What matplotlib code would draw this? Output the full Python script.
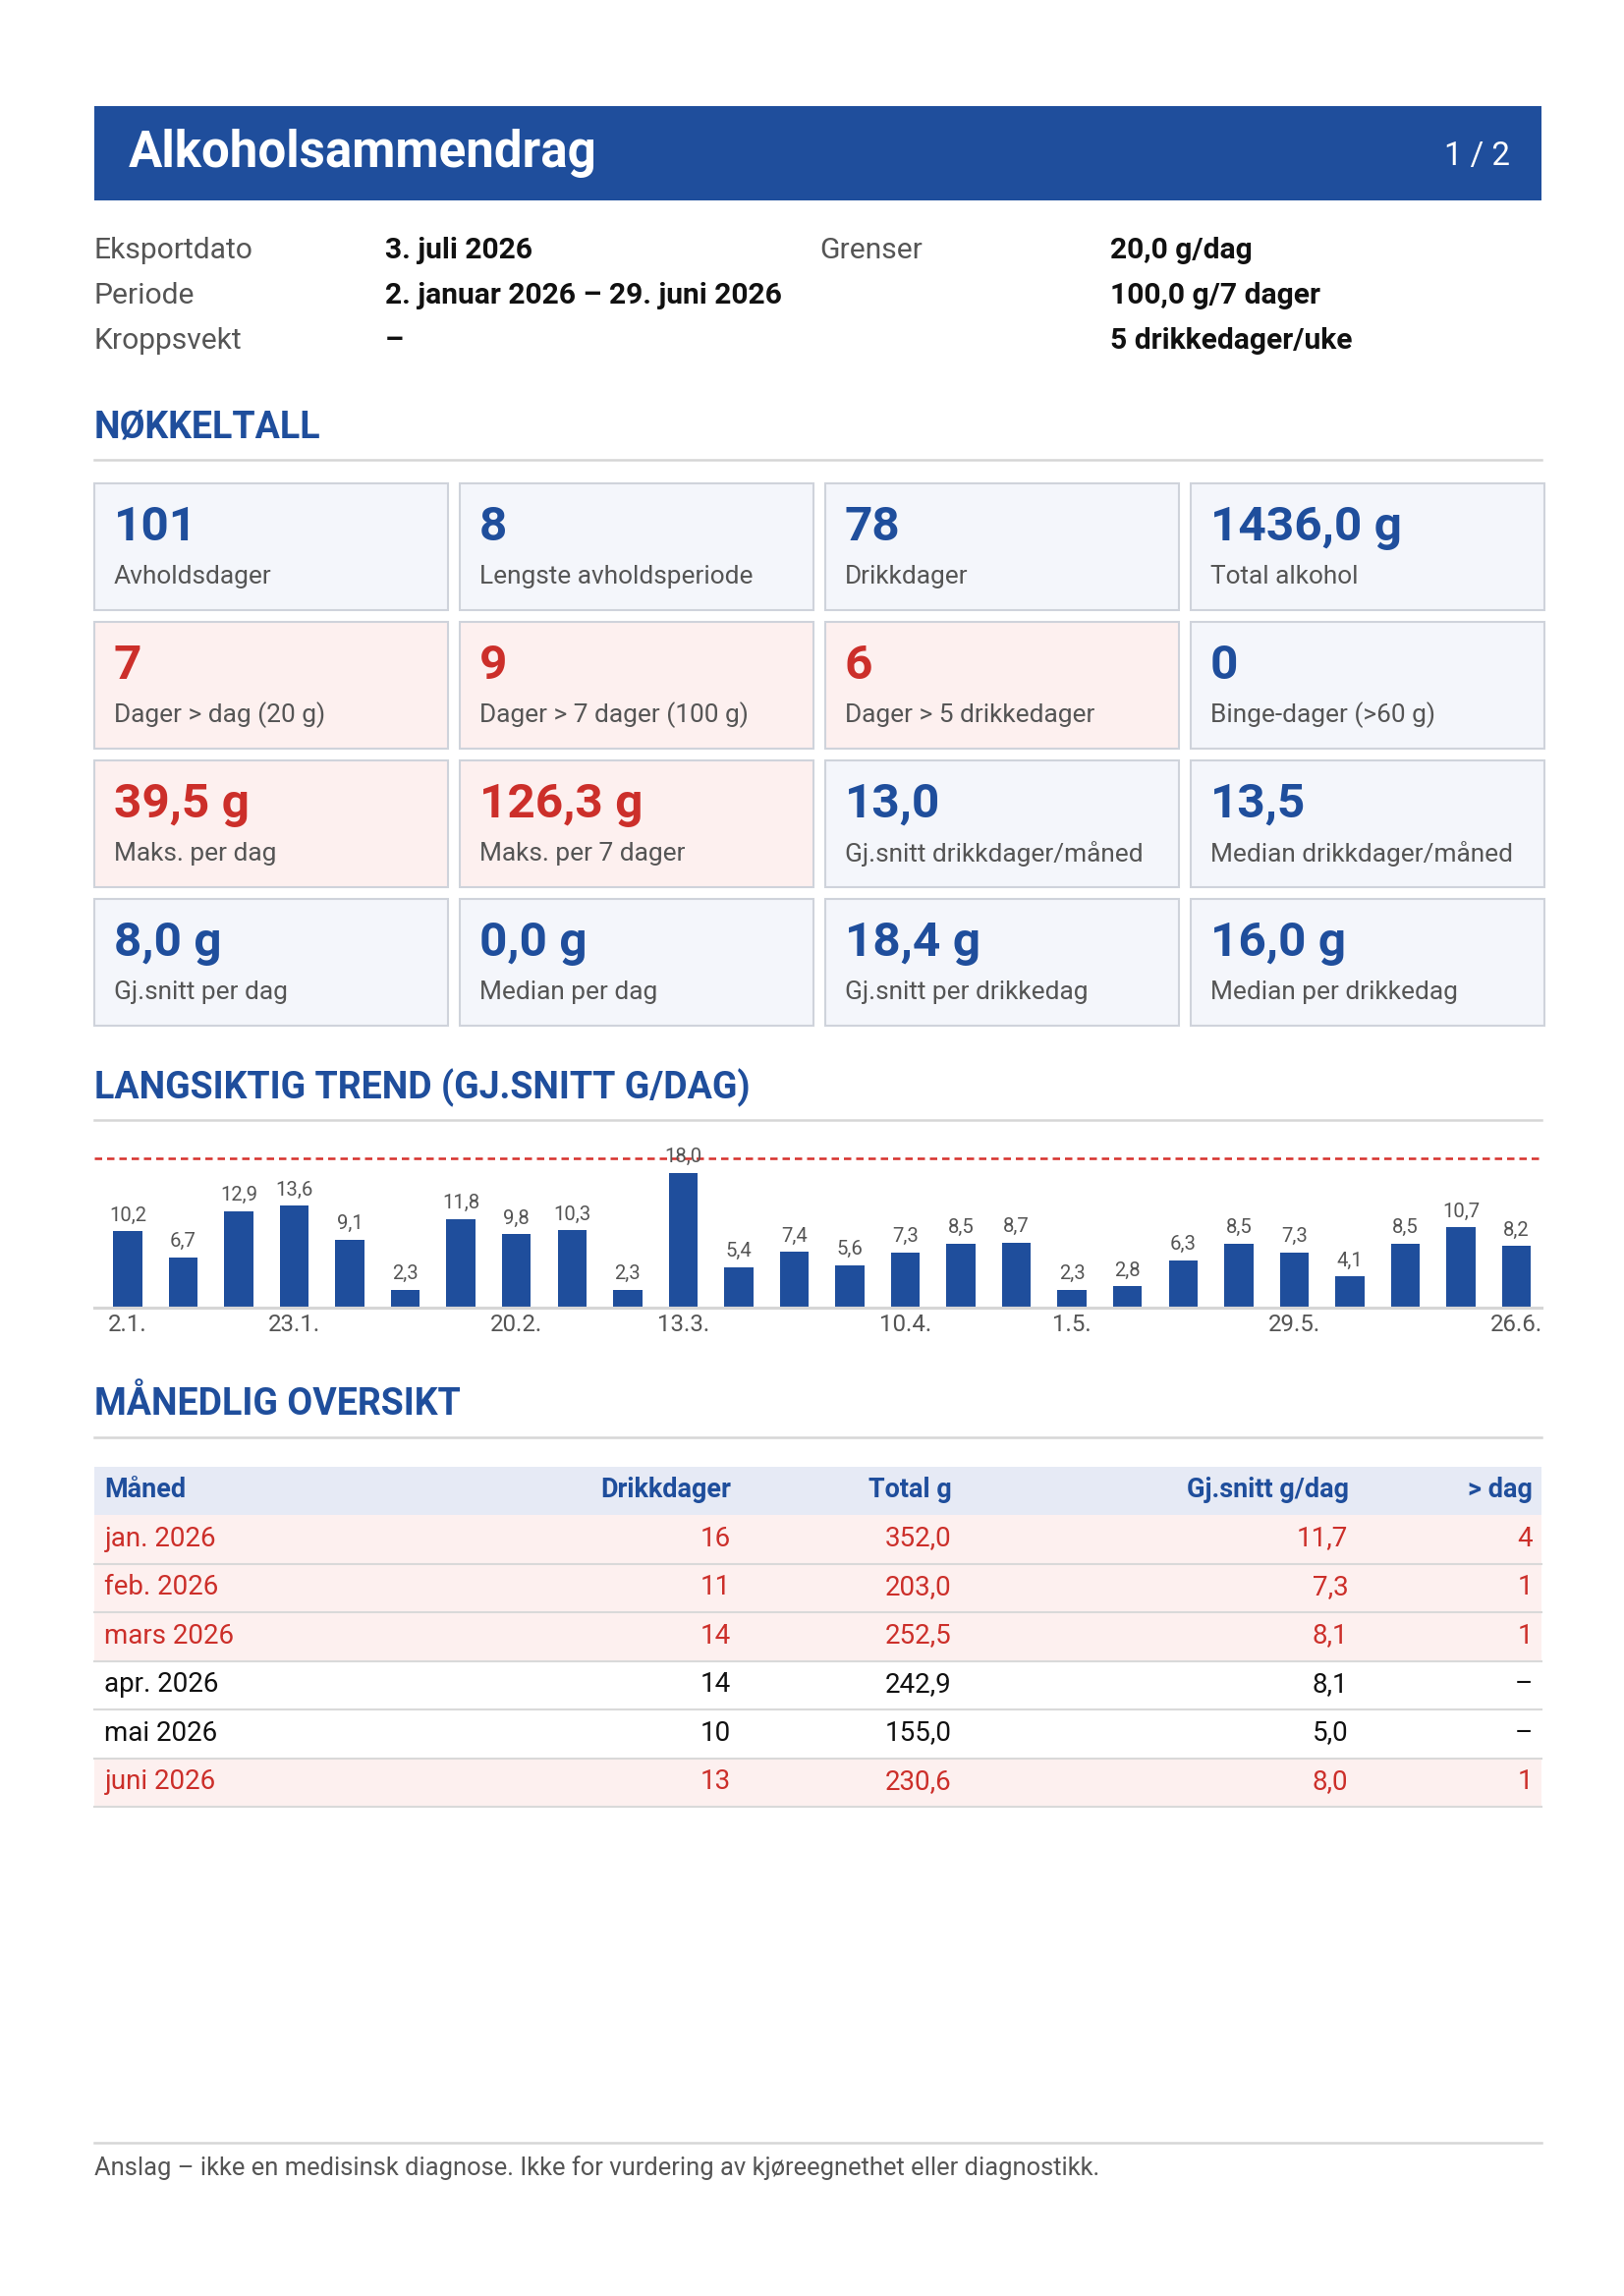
import matplotlib
matplotlib.use("Agg")
import matplotlib.pyplot as plt
from matplotlib.patches import Rectangle

plt.rcParams['font.family'] = ['Roboto', 'DejaVu Sans']

# ---- data ----
info_left = [("Eksportdato", "3. juli 2026"), ("Periode", "2. januar 2026 – 29. juni 2026"), ("Kroppsvekt", "–")]
info_right = [("Grenser", "20,0 g/dag"), ("", "100,0 g/7 dager"), ("", "5 drikkedager/uke")]

card_values = ["101", "8", "78", "1436,0 g",
               "7", "9", "6", "0",
               "39,5 g", "126,3 g", "13,0", "13,5",
               "8,0 g", "0,0 g", "18,4 g", "16,0 g"]
card_labels = ["Avholdsdager", "Lengste avholdsperiode", "Drikkdager", "Total alkohol",
               "Dager > dag (20 g)", "Dager > 7 dager (100 g)", "Dager > 5 drikkedager", "Binge-dager (>60 g)",
               "Maks. per dag", "Maks. per 7 dager", "Gj.snitt drikkdager/måned", "Median drikkdager/måned",
               "Gj.snitt per dag", "Median per dag", "Gj.snitt per drikkedag", "Median per drikkedag"]
card_alert = [False, False, False, False,
              True, True, True, False,
              True, True, False, False,
              False, False, False, False]

week_values = [10.2, 6.7, 12.9, 13.6, 9.1, 2.3, 11.8, 9.8, 10.3, 2.3, 18.0, 5.4, 7.4,
               5.6, 7.3, 8.5, 8.7, 2.3, 2.8, 6.3, 8.5, 7.3, 4.1, 8.5, 10.7, 8.2]
tick_idx = [0, 3, 7, 10, 14, 17, 21, 25]
tick_labels = ["2.1.", "23.1.", "20.2.", "13.3.", "10.4.", "1.5.", "29.5.", "26.6."]
day_limit = 20.0

table_header = ["Måned", "Drikkdager", "Total g", "Gj.snitt g/dag", "> dag"]
months = ["jan. 2026", "feb. 2026", "mars 2026", "apr. 2026", "mai 2026", "juni 2026"]
drink_days = ["16", "11", "14", "14", "10", "13"]
total_g = ["352,0", "203,0", "252,5", "242,9", "155,0", "230,6"]
avg_g = ["11,7", "7,3", "8,1", "8,1", "5,0", "8,0"]
over_day = ["4", "1", "1", "–", "–", "1"]

BLUE = "#1f4e9c"
RED = "#cc2f2a"
GREY = "#555555"

W, H = 1102, 1558
fig = plt.figure(figsize=(W / 100, H / 100), dpi=150)
page = fig.add_axes([0, 0, 1, 1])
page.set_xlim(0, W)
page.set_ylim(H, 0)
page.axis('off')


def pt(px):
    return px * 0.72


def rect(x, y, w, h, fc, ec='none', lw=0):
    page.add_patch(Rectangle((x, y), w, h, facecolor=fc, edgecolor=ec, linewidth=lw))


def hline(y, x0=64, x1=1046, color="#d6d6d6", lw=1.2):
    page.plot([x0, x1], [y, y], color=color, lw=lw)


# header
rect(64, 72, 982, 64, BLUE)
page.text(87, 104, "Alkoholsammendrag", color="white", fontsize=pt(34), fontweight='bold', va='center')
page.text(1025, 106, "1 / 2", color="white", fontsize=pt(22), va='center', ha='right')

# info
for i, (k, v) in enumerate(info_left):
    y = 170 + i * 30.5
    page.text(64, y, k, color=GREY, fontsize=pt(20), va='center')
    page.text(261, y, v, color="#111111", fontsize=pt(20), fontweight='bold', va='center')
for i, (k, v) in enumerate(info_right):
    y = 170 + i * 30.5
    page.text(556, y, k, color=GREY, fontsize=pt(20), va='center')
    page.text(753, y, v, color="#111111", fontsize=pt(20), fontweight='bold', va='center')


def section(title, y):
    page.text(64, y, title, color=BLUE, fontsize=pt(25), fontweight='bold', va='center')
    hline(y + 22)


section("NØKKELTALL", 290)

col_x = [64, 312, 560, 808]
row_y = [328, 422, 516, 610]
for i, (val, lab) in enumerate(zip(card_values, card_labels)):
    x = col_x[i % 4]
    y = row_y[i // 4]
    fc = "#fdf0ef" if card_alert[i] else "#f4f6fb"
    rect(x, y, 240, 86, fc, ec="#cfd3db", lw=1.0)
    page.text(x + 13, y + 30, val, color=RED if card_alert[i] else BLUE,
              fontsize=pt(33), fontweight='bold', va='center')
    page.text(x + 13, y + 63, lab, color=GREY, fontsize=pt(17.5), va='center')

section("LANGSIKTIG TREND (GJ.SNITT G/DAG)", 738)

# trend chart
x0, x1, ybase, ytop = 64, 1046, 887, 775
ymax = day_limit * (ybase - ytop) / (887 - 786)
ax = fig.add_axes([x0 / W, 1 - ybase / H, (x1 - x0) / W, (ybase - ytop) / H])
xs = list(range(len(week_values)))
ax.bar(xs, week_values, width=0.52, color=BLUE)
ax.axhline(day_limit, color="#d6302b", lw=1.2, ls=(0, (3, 2)))
for xv, v in zip(xs, week_values):
    ax.text(xv, v + 0.9, f"{v:.1f}".replace(".", ","), ha='center', va='bottom',
            fontsize=pt(13.5), color=GREY)
ax.set_xlim(-0.6, len(week_values) - 0.55)
ax.set_ylim(0, ymax)
ax.set_yticks([])
ax.set_xticks(tick_idx)
ax.set_xticklabels(tick_labels, fontsize=pt(16), color=GREY)
ax.tick_params(axis='x', length=0, pad=3)
for s in ['top', 'right', 'left']:
    ax.spines[s].set_visible(False)
ax.spines['bottom'].set_color("#d6d6d6")
ax.spines['bottom'].set_linewidth(1.5)
ax.patch.set_alpha(0)

section("MÅNEDLIG OVERSIKT", 953)

# table
rect(64, 995, 982, 33, "#e6eaf5")
col_right = [None, 496, 646, 915, 1040]
page.text(71, 1011, table_header[0], color=BLUE, fontsize=pt(18), fontweight='bold', va='center')
for j in range(1, 5):
    page.text(col_right[j], 1011, table_header[j], color=BLUE, fontsize=pt(18),
              fontweight='bold', va='center', ha='right')
for i in range(len(months)):
    top = 1028 + i * 33
    alert = over_day[i] != "–"
    if alert:
        rect(64, top, 982, 33, "#fdf0ef")
    hline(top + 33, color="#d9d9d9", lw=1.0)
    c = RED if alert else "#111111"
    yc = top + 16
    page.text(71, yc, months[i], color=c, fontsize=pt(18.5), va='center')
    for j, vals in zip(range(1, 5), [drink_days, total_g, avg_g, over_day]):
        page.text(col_right[j], yc, vals[i], color=c, fontsize=pt(18.5), va='center', ha='right')

# footer
hline(1454)
page.text(64, 1471, "Anslag – ikke en medisinsk diagnose. Ikke for vurdering av kjøreegnethet eller diagnostikk.",
          color=GREY, fontsize=pt(17), va='center')

fig.savefig("out.png", dpi=150)
